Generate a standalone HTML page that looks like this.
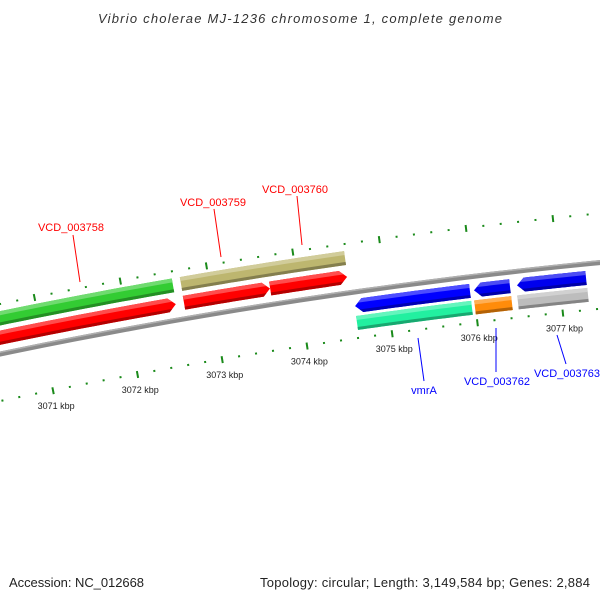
<!DOCTYPE html>
<html><head><meta charset="utf-8">
<style>
html,body{margin:0;padding:0;background:#fff;}
svg{display:block;}
text{font-family:"Liberation Sans","DejaVu Sans",sans-serif;}
</style></head>
<body>
<svg id="map" width="600" height="600" viewBox="0 0 600 600" xmlns="http://www.w3.org/2000/svg">
<rect x="0" y="0" width="600" height="600" fill="#fff"/>
<text x="300" y="23" text-anchor="middle" font-size="13" font-style="italic" fill="#333" textLength="404">Vibrio cholerae MJ-1236 chromosome 1, complete genome</text>
<g id="plot"></g>
<text x="9" y="587" font-size="13" fill="#222" textLength="135">Accession: NC_012668</text>
<text x="590" y="587" text-anchor="end" font-size="13" fill="#222" textLength="330">Topology: circular; Length: 3,149,584 bp; Genes: 2,884</text>
</svg>
<script>
// ---- data (kbp) ----
const featureNames  = ['green-cds','red-cds-1','beige-cds','red-cds-2','red-cds-3','vmrA-blue','aqua-cds','blue-cds-2','orange-cds','blue-cds-3','gray-cds'];
const featureStarts = [3069.0, 3069.0, 3072.678, 3072.675, 3073.68, 3074.618, 3074.613, 3076.005, 3075.993, 3076.506, 3076.495];
const featureEnds   = [3072.585, 3072.58, 3074.582, 3073.678, 3074.575, 3075.958, 3075.958, 3076.424, 3076.425, 3077.309, 3077.312];
const featureStrand = [1, 1, 1, 1, 1, -1, -1, -1, -1, -1, -1];
const featureRow    = [2, 1, 2, 1, 1, 1, 2, 1, 2, 1, 2];
const featureArrow  = [0, 1, 0, 1, 1, 1, 0, 1, 0, 1, 0];
const featureColors = ['#33cc33','#ff0000','#bdb66f','#ff0000','#ff0000','#0000ff','#22f0a0','#0000ee','#ff8c0a','#0000ee','#bdbdbd'];
const tickLabels    = [3071, 3072, 3073, 3074, 3075, 3076, 3077];
const labelTexts    = ['VCD_003758','VCD_003759','VCD_003760','vmrA','VCD_003762','VCD_003763'];
const labelColors   = ['#ff0000','#ff0000','#ff0000','#0000ff','#0000ff','#0000ff'];
const labelFeature  = [1, 3, 4, 5, 7, 9];

// ---- axis (circular projection) ----
const CX = 1151.5, CY = 5891.6, R = 5656;
const PHI0 = -0.19709, DPHI = 0.015327, K0 = 3071;
function phi(k){ return PHI0 + (k - K0) * DPHI; }
function pt(k, r){ const a = phi(k); return [CX + (R + r) * Math.sin(a), CY - (R + r) * Math.cos(a)]; }
function rowRange(strand,row){
  if(strand>0) return row===1 ? [9,23] : [28,42];
  return row===1 ? [-7,-21] : [-24,-38];
}
const NS = 'http://www.w3.org/2000/svg';
const plot = document.getElementById('plot');
const defs = document.createElementNS(NS,'defs');
plot.appendChild(defs);
function arcPts(k1,k2,r,n){ const a=[]; for(let i=0;i<=n;i++){ a.push(pt(k1+(k2-k1)*i/n, r)); } return a; }
function band(k1,k2,r1,r2){
  const o = arcPts(k1,k2,r2,24), inn = arcPts(k1,k2,r1,24).reverse();
  return o.concat(inn);
}
function poly(points){ return 'M'+points.map(p=>p[0].toFixed(2)+','+p[1].toFixed(2)).join('L')+'Z'; }
function shade(hex,f){
  const n=parseInt(hex.slice(1),16); let r=n>>16,g=(n>>8)&255,b=n&255;
  if(f>0){ r+= (255-r)*f; g+=(255-g)*f; b+=(255-b)*f; } else { r*=1+f; g*=1+f; b*=1+f; }
  return 'rgb('+Math.round(r)+','+Math.round(g)+','+Math.round(b)+')';
}

// backbone
const bb = document.createElementNS(NS,'path');
bb.setAttribute('d', poly(band(3069.5,3078.5,-2.5,2.5)));
bb.setAttribute('fill','#8a8a8a');


plot.appendChild(bb);
const bbl = document.createElementNS(NS,'path');
bbl.setAttribute('d', poly(band(3069.5,3078.5,1,2.5)));
bbl.setAttribute('fill','#b0b0b0');


plot.appendChild(bbl);

// ticks
for(let t=Math.round(3069.6*5); t<=Math.round(3078*5); t++){
  const k=t/5; const major=(t%5===0);
  [[1],[ -1]].forEach(([s])=>{
    const ra = s>0 ? (major?[45,52]:[48,50]) : (major?[-43,-50]:[-45,-47]);
    const p1=pt(k,ra[0]), p2=pt(k,ra[1]);
    const ln=document.createElementNS(NS,'line');
    ln.setAttribute('x1',p1[0]); ln.setAttribute('y1',p1[1]);
    ln.setAttribute('x2',p2[0]); ln.setAttribute('y2',p2[1]);
    ln.setAttribute('stroke','#1a8a1a'); ln.setAttribute('stroke-width',major?2:2);
    
    
    plot.appendChild(ln);
  });
}
tickLabels.forEach(k=>{
  const p=pt(k,-62);
  const tx=document.createElementNS(NS,'text');
  tx.setAttribute('x',p[0]); tx.setAttribute('y',p[1]+3);
  tx.setAttribute('text-anchor','middle'); tx.setAttribute('font-size','9'); tx.setAttribute('fill','#222');
  tx.textContent=k+' kbp';
  
  
  plot.appendChild(tx);
});

// features
const AL = 0.085;
featureStarts.forEach((s,i)=>{
  const e=featureEnds[i], st=featureStrand[i];
  const [a,b]=rowRange(st,featureRow[i]); const r1=Math.min(a,b), r2=Math.max(a,b), rm=(r1+r2)/2;
  let pts;
  if(featureArrow[i] && st>0){
    pts = arcPts(s,e-AL,r2,20).concat([pt(e,rm)], arcPts(s,e-AL,r1,20).reverse());
  } else if(featureArrow[i] && st<0){
    pts = [pt(s,rm)].concat(arcPts(s+AL,e,r2,20), arcPts(s+AL,e,r1,20).reverse());
  } else pts = band(s,e,r1,r2);
  const d=poly(pts);
  const cp=document.createElementNS(NS,'clipPath'); cp.setAttribute('id','cp'+i);
  const cpp=document.createElementNS(NS,'path'); cpp.setAttribute('d',d); cp.appendChild(cpp); defs.appendChild(cp);
  const g=document.createElementNS(NS,'g');
  
  
  const base=document.createElementNS(NS,'path'); base.setAttribute('d',d); base.setAttribute('fill',featureColors[i]);
  g.appendChild(base);
  const hi=document.createElementNS(NS,'path'); hi.setAttribute('d',poly(band(s-0.1,e+0.1,r2-4,r2+1)));
  hi.setAttribute('fill',shade(featureColors[i],0.3)); hi.setAttribute('clip-path','url(#cp'+i+')');
  g.appendChild(hi);
  const dk=document.createElementNS(NS,'path'); dk.setAttribute('d',poly(band(s-0.1,e+0.1,r1-1,r1+3)));
  dk.setAttribute('fill',shade(featureColors[i],-0.3)); dk.setAttribute('clip-path','url(#cp'+i+')');
  g.appendChild(dk);
  plot.appendChild(g);
});

// labels (leader lines)
const labelPos = [[71,231,80,282,73,235],[213,206,221,257,214,209],[295,193,302,245,297,196],[424,394,418,338,424,381],[497,385,496,328,496,372],[567,377,557,335,566,364]];
labelTexts.forEach((t,i)=>{
  const L=labelPos[i];
  const ln=document.createElementNS(NS,'line');
  ln.setAttribute('x1',L[2]); ln.setAttribute('y1',L[3]); ln.setAttribute('x2',L[4]); ln.setAttribute('y2',L[5]);
  ln.setAttribute('stroke',labelColors[i]); ln.setAttribute('stroke-width','1');
  
  
  plot.appendChild(ln);
  const tx=document.createElementNS(NS,'text');
  tx.setAttribute('x',L[0]); tx.setAttribute('y',L[1]);
  tx.setAttribute('text-anchor','middle'); tx.setAttribute('font-size','11'); tx.setAttribute('fill',labelColors[i]);
  tx.textContent=t;
  
  
  plot.appendChild(tx);
});
</script>
</body></html>
